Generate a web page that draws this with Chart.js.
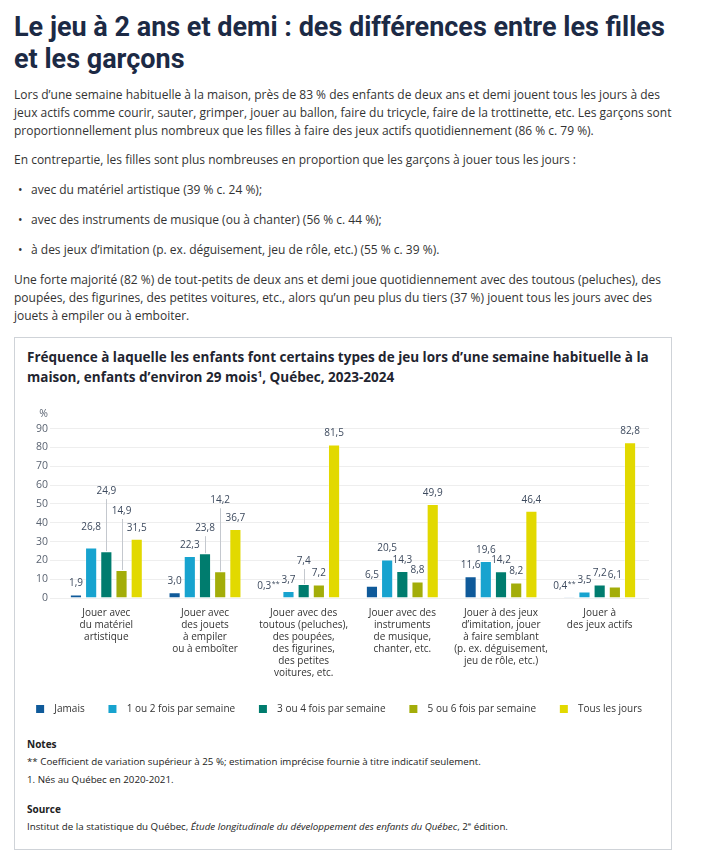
<!DOCTYPE html>
<html lang="fr">
<head>
<meta charset="utf-8">
<title>Le jeu à 2 ans et demi</title>
<script src="https://cdn.jsdelivr.net/npm/chart.js@4.4.1/dist/chart.umd.min.js"></script>
<style>
  html, body { margin: 0; padding: 0; background: #fff; overflow: hidden; }
  #page { width: 707px; font-family: "Open Sans", sans-serif; color: #333; }
  h1 {
    font-family: Roboto, sans-serif;
    font-weight: 700;
    font-size: 27px;
    line-height: 32px;
    color: #1c2a45;
    margin: 11px 0 0 14px;
    white-space: nowrap;
  }
  p { font-size: 12px; line-height: 18px; margin: 0 0 0 14px; white-space: nowrap; }
  .p1 { margin-top: 11px; }
  .p2 { margin-top: 11px; }
  ul { list-style: none; margin: 0; padding: 0; }
  li { position: relative; font-size: 12px; line-height: 18px; margin: 12px 0 0 31px; }
  li::before { content: "\2022"; position: absolute; left: -13px; }
  .p3 { margin-top: 12px; }
  .box {
    margin: 12px 0 0 14px;
    width: 656px;
    height: 511px;
    border: 1px solid #cfd3d8;
  }
  .box h2 {
    font-size: 13.5px; line-height: 20px; font-weight: 700; color: #1f2530;
    margin: 9px 0 0 12px; white-space: nowrap;
  }
  .box h2 sup { font-size: 8.5px; line-height: 0; }
  .chart-wrap { position: relative; width: 656px; height: 329px; margin-top: 8px; }
  .notes { margin-left: 12px; font-size: 9.75px; color: #222; }
  .notes .hd { font-weight: 700; font-size: 10px; line-height: 18px; }
  .notes div { line-height: 18px; white-space: nowrap; }
  .notes sup { font-size: 6px; line-height: 0; }
</style>
</head>
<body>
<div id="page">
  <h1>Le jeu à 2 ans et demi : des différences entre les filles<br>et les garçons</h1>
  <p class="p1">Lors d’une semaine habituelle à la maison, près de 83 % des enfants de deux ans et demi jouent tous les jours à des<br>jeux actifs comme courir, sauter, grimper, jouer au ballon, faire du tricycle, faire de la trottinette, etc. Les garçons sont<br>proportionnellement plus nombreux que les filles à faire des jeux actifs quotidiennement (86 % c. 79 %).</p>
  <p class="p2">En contrepartie, les filles sont plus nombreuses en proportion que les garçons à jouer tous les jours :</p>
  <ul>
    <li>avec du matériel artistique (39 % c. 24 %);</li>
    <li>avec des instruments de musique (ou à chanter) (56 % c. 44 %);</li>
    <li>à des jeux d’imitation (p. ex. déguisement, jeu de rôle, etc.) (55 % c. 39 %).</li>
  </ul>
  <p class="p3">Une forte majorité (82 %) de tout-petits de deux ans et demi joue quotidiennement avec des toutous (peluches), des<br>poupées, des figurines, des petites voitures, etc., alors qu’un peu plus du tiers (37 %) jouent tous les jours avec des<br>jouets à empiler ou à emboiter.</p>

  <div class="box">
    <h2>Fréquence à laquelle les enfants font certains types de jeu lors d’une semaine habituelle à la<br>maison, enfants d’environ 29 mois<sup>1</sup>, Québec, 2023-2024</h2>
    <div class="chart-wrap"><canvas id="jeux"></canvas></div>
    <div class="notes">
      <div class="hd" style="margin-top:11px">Notes</div>
      <div>** Coefficient de variation supérieur à 25 %; estimation imprécise fournie à titre indicatif seulement.</div>
      <div>1. Nés au Québec en 2020-2021.</div>
      <div class="hd" style="margin-top:11px">Source</div>
      <div>Institut de la statistique du Québec, <i>Étude longitudinale du développement des enfants du Québec</i>, 2<sup>e</sup> édition.</div>
    </div>
  </div>
</div>

<script>
const categories = [
  ['Jouer avec', 'du matériel', 'artistique'],
  ['Jouer avec', 'des jouets', 'à empiler', 'ou à emboîter'],
  ['Jouer avec des', 'toutous (peluches),', 'des poupées,', 'des figurines,', 'des petites', 'voitures, etc.'],
  ['Jouer avec des', 'instruments', 'de musique,', 'chanter, etc.'],
  ['Jouer à des jeux', 'd’imitation, jouer', 'à faire semblant', '(p. ex. déguisement,', 'jeu de rôle, etc.)'],
  ['Jouer à', 'des jeux actifs']
];
const seriesNames = ['Jamais', '1 ou 2 fois par semaine', '3 ou 4 fois par semaine', '5 ou 6 fois par semaine', 'Tous les jours'];
const jamais = [1.9, 3.0, 0.3, 6.5, 11.6, 0.4];
const unDeux = [26.8, 22.3, 3.7, 20.5, 19.6, 3.5];
const troisQuatre = [24.9, 23.8, 7.4, 14.3, 14.2, 7.2];
const cinqSix = [14.9, 14.2, 7.2, 8.8, 8.2, 6.1];
const tousLesJours = [31.5, 36.7, 81.5, 49.9, 46.4, 82.8];
const yTicks = [0, 10, 20, 30, 40, 50, 60, 70, 80, 90];
// estimations imprecises (**) : [serie, categorie]
const imprecis = [[0, 2], [0, 5]];

const colors = ['#0f5a9a', '#17a3cf', '#007c6e', '#a3ad09', '#e2d900'];

// labels that sit higher than the default, with or without a leader line
const labelLift = { '1-0': 9, '2-0': 49, '3-0': 48, '2-1': 14, '3-1': 60, '2-2': 12 };
const leaderLines = ['2-0', '3-0', '2-1', '3-1', '2-2'];

const fmt = v => v.toFixed(1).replace('.', ',');

const valueLabels = {
  id: 'valueLabels',
  afterDatasetsDraw(chart) {
    const ctx = chart.ctx;
    ctx.save();
    ctx.font = '10px "Open Sans"';
    ctx.textBaseline = 'middle';
    chart.data.datasets.forEach((ds, i) => {
      chart.getDatasetMeta(i).data.forEach((bar, j) => {
        const key = i + '-' + j;
        const y = bar.y - 11 - (labelLift[key] || 0);
        const star = imprecis.some(p => p[0] === i && p[1] === j);
        const txt = fmt(ds.data[j]);
        ctx.fillStyle = '#3d4a5e';
        ctx.textAlign = 'center';
        if (star) {
          const x = bar.x - 9;
          ctx.fillText(txt, x, y);
          const w = ctx.measureText(txt).width;
          ctx.font = '7px "Open Sans"';
          ctx.textAlign = 'left';
          ctx.fillText('**', x + w / 2 + 0.5, y - 2);
          ctx.font = '10px "Open Sans"';
        } else {
          ctx.fillText(txt, bar.x, y);
        }
        if (leaderLines.includes(key)) {
          ctx.strokeStyle = '#c4c8ce';
          ctx.lineWidth = 1;
          ctx.beginPath();
          ctx.moveTo(Math.round(bar.x) + 0.5, y + 8);
          ctx.lineTo(Math.round(bar.x) + 0.5, bar.y);
          ctx.stroke();
        }
      });
    });
    // unit above the y axis
    const ys = chart.scales.y;
    ctx.font = '10.5px "Open Sans"';
    ctx.fillStyle = '#5b6472';
    ctx.textAlign = 'right';
    ctx.fillText('%', ys.right - 9, ys.getPixelForValue(90) - 14.5);
    ctx.restore();
  }
};

const sets = [jamais, unDeux, troisQuatre, cinqSix, tousLesJours].map((d, i) => ({
  label: seriesNames[i],
  data: d,
  backgroundColor: colors[i],
  borderColor: 'rgba(255,255,255,0.35)',
  borderWidth: 1,
  categoryPercentage: 0.77,
  barPercentage: 0.8
}));

new Chart(document.getElementById('jeux'), {
  type: 'bar',
  data: { labels: categories, datasets: sets },
  options: {
    responsive: true,
    maintainAspectRatio: false,
    animation: false,
    layout: { padding: { left: 0, right: 0, top: 33.6, bottom: 0 } },
    plugins: {
      tooltip: { enabled: false },
      legend: {
        position: 'bottom',
        labels: {
          boxWidth: 8,
          boxHeight: 8,
          padding: 16,
          color: '#333',
          font: { family: 'Open Sans', size: 10 },
          generateLabels(chart) {
            return Chart.defaults.plugins.legend.labels.generateLabels(chart).map(l => {
              l.text = '  ' + l.text + '   ';
              l.lineWidth = 0;
              return l;
            });
          }
        }
      }
    },
    scales: {
      x: {
        grid: { display: false, drawTicks: false },
        border: { display: false },
        ticks: {
          padding: 9,
          maxRotation: 0,
          autoSkip: false,
          color: '#333',
          font: { family: 'Open Sans', size: 10, lineHeight: '12px' }
        }
      },
      y: {
        min: 0,
        max: 90,
        afterFit(s) { s.width = 42; },
        afterBuildTicks(s) { s.ticks = yTicks.map(v => ({ value: v })); },
        grid: { color: '#eeeeee', tickLength: 7 },
        border: { display: false },
        ticks: {
          autoSkip: false,
          padding: 2,
          color: '#5b6472',
          font: { family: 'Open Sans', size: 10.5 }
        }
      },
      // empty right margin, keeps the legend centred on the whole canvas
      marge: {
        type: 'linear',
        position: 'right',
        grid: { display: false },
        border: { display: false },
        ticks: { display: false },
        afterFit(s) { s.width = 22; }
      }
    }
  },
  plugins: [valueLabels]
});
</script>
</body>
</html>
